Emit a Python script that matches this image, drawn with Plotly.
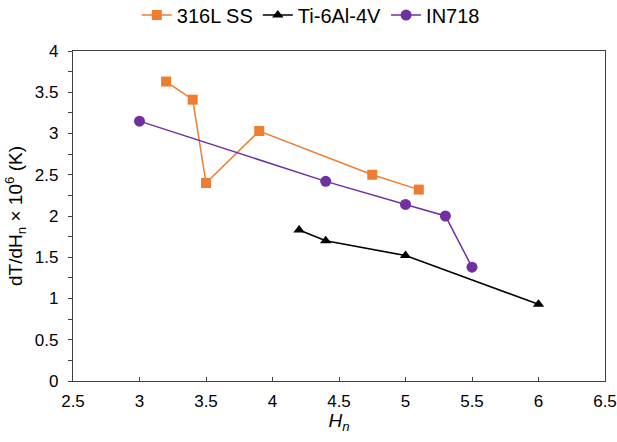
import plotly.graph_objects as go

# Normalised enthalpy (H_n) and dT/dH_n (x10^6 K) for each alloy
hn_316l = [3.2, 3.4, 3.5, 3.9, 4.75, 5.1]
dt_316l = [3.63, 3.41, 2.40, 3.03, 2.50, 2.32]

hn_ti64 = [4.2, 4.4, 5.0, 6.0]
dt_ti64 = [1.83, 1.70, 1.52, 0.93]

hn_in718 = [3.0, 4.4, 5.0, 5.3, 5.5]
dt_in718 = [3.15, 2.42, 2.14, 2.00, 1.38]

x_ticks = [2.5, 3, 3.5, 4, 4.5, 5, 5.5, 6, 6.5]
y_ticks = [0, 0.5, 1, 1.5, 2, 2.5, 3, 3.5, 4]

font_family = "Liberation Sans, Arial, sans-serif"

fig = go.Figure()
fig.add_trace(go.Scatter(
    x=hn_316l, y=dt_316l, name="316L SS", mode="lines+markers",
    line=dict(color="#ED7D31", width=1.5),
    marker=dict(symbol="square", size=10, color="#ED7D31"),
))
fig.add_trace(go.Scatter(
    x=hn_ti64, y=dt_ti64, name="Ti-6Al-4V", mode="lines+markers",
    line=dict(color="#000000", width=1.5),
    marker=dict(symbol="triangle-up", size=10, color="#000000"),
))
fig.add_trace(go.Scatter(
    x=hn_in718, y=dt_in718, name="IN718", mode="lines+markers",
    line=dict(color="#7030A0", width=1.5),
    marker=dict(symbol="circle", size=11, color="#7030A0"),
))

axis_common = dict(
    showgrid=False, zeroline=False, showline=True, mirror=True,
    linecolor="#404040", linewidth=1.2, automargin=False,
    tickfont=dict(size=17, color="#000000", family=font_family),
    tickcolor="#404040", ticklen=4,
)

fig.update_xaxes(
    range=[2.5, 6.5], tickvals=x_ticks, ticktext=[f"{v:g}" for v in x_ticks],
    ticks="inside", ticklabelstandoff=4,
    title=dict(text="<i>H<sub>n</sub></i>", font=dict(size=19, family=font_family, color="#000000"), standoff=4),
    **axis_common,
)
fig.update_yaxes(
    range=[0, 4], tickvals=y_ticks, ticktext=[f"{v:g}" for v in y_ticks],
    ticks="outside", ticklabelstandoff=6,
    minor=dict(dtick=0.25, ticks="outside", ticklen=4, tickcolor="#404040"),
    title=dict(text="dT/dH<sub>n</sub> × 10<sup>6</sup> (K)", font=dict(size=19, family=font_family, color="#000000"), standoff=7),
    **axis_common,
)

fig.update_layout(
    width=617, height=442,
    margin=dict(l=73, r=12, t=51, b=61),
    paper_bgcolor="white", plot_bgcolor="white",
    font=dict(family=font_family, color="#000000"),
    showlegend=True,
    legend=dict(
        orientation="h", x=0.447, xanchor="center",
        yref="container", y=0.966, yanchor="middle",
        font=dict(size=20, family=font_family, color="#000000"),
        itemwidth=30, bgcolor="rgba(0,0,0,0)",
    ),
)

fig.write_html("out.html")
